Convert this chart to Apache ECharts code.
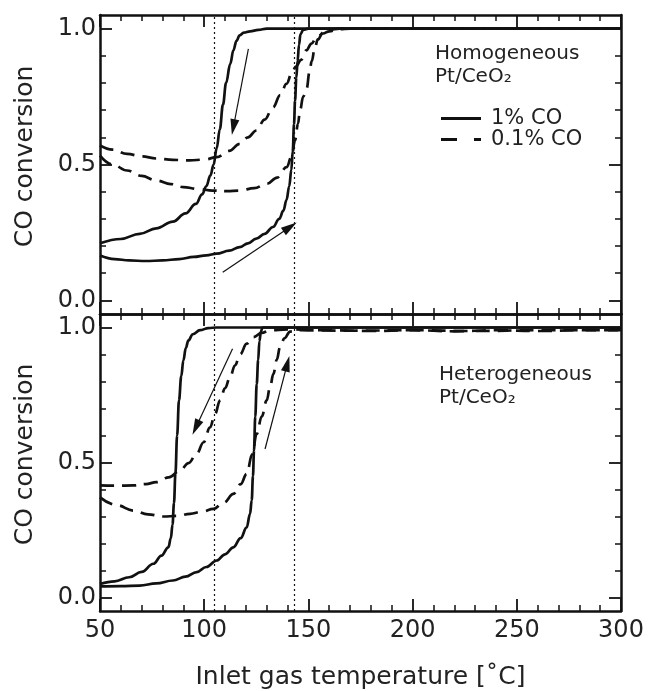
<!DOCTYPE html>
<html><head><meta charset="utf-8">
<script src="https://cdn.jsdelivr.net/npm/echarts@6/dist/echarts.min.js"></script>
<style>html,body{margin:0;padding:0;background:#fff}#c{width:649px;height:691px}</style>
</head><body><div id="c"></div>
<script>
// ---------- data ----------
const xTickValues = [50, 100, 150, 200, 250, 300];
const yMajorTicks = [0, 0.5, 1];
const yMinorTicks = [0.1, 0.2, 0.3, 0.4, 0.6, 0.7, 0.8, 0.9];
const dottedTemps = [105, 143];

// Homogeneous Pt/CeO2 (top panel)
const homoSolidCooling = [[50,0.21],[60,0.226],[69,0.245],[77,0.265],[85,0.29],[91,0.32],[96,0.355],[99,0.39],[101,0.42],[103,0.46],[104.5,0.5],[106,0.56],[107.5,0.63],[109,0.72],[110.5,0.8],[112.5,0.87],[114,0.92],[115.5,0.955],[117,0.975],[119,0.985],[122,0.99],[126,0.995],[130,1.0],[300,1.0]];
const homoSolidHeating = [[50,0.165],[57,0.152],[64,0.147],[72,0.145],[80,0.147],[88,0.152],[95,0.16],[101,0.166],[106,0.172],[112,0.183],[117,0.196],[121,0.21],[125,0.227],[129,0.245],[133,0.27],[136,0.3],[138,0.33],[139.5,0.37],[140.8,0.42],[141.8,0.48],[142.5,0.55],[143.1,0.65],[143.6,0.735],[144.2,0.82],[144.8,0.88],[145.5,0.94],[146.2,0.98],[147.5,0.995],[150,1.0],[300,1.0]];
const homoDashedCooling = [[50,0.57],[56,0.555],[63,0.539],[70,0.53],[77,0.522],[85,0.517],[93,0.515],[100,0.518],[106,0.527],[112,0.55],[117,0.576],[121,0.6],[125,0.625],[129,0.665],[133,0.71],[136.5,0.755],[139.5,0.797],[142,0.835],[144,0.86],[146.5,0.885],[149,0.92],[151.5,0.945],[154,0.968],[157,0.982],[160,0.99],[165,0.998],[170,1.0],[300,1.0]];
const homoDashedHeating = [[50,0.533],[56,0.5],[63,0.478],[70,0.458],[77,0.441],[84,0.428],[90,0.417],[97,0.41],[104,0.404],[111,0.402],[117,0.404],[124,0.413],[130,0.429],[135,0.452],[139.5,0.49],[142,0.53],[143.6,0.59],[145,0.65],[146,0.7],[147.5,0.75],[149.2,0.78],[150.5,0.84],[151.6,0.88],[153,0.925],[154.5,0.96],[157,0.985],[160,0.995],[165,1.0],[300,1.0]];
const homoArrows = [[[121.2,0.925],[114,0.637]], [[108.9,0.104],[141.2,0.27]]];

// Heterogeneous Pt/CeO2 (bottom panel)
const heteroSolidCooling = [[50,0.05],[57,0.06],[64,0.075],[70,0.095],[75.6,0.125],[79.5,0.155],[82.8,0.186],[84,0.22],[84.8,0.27],[85.5,0.35],[86.2,0.46],[87,0.6],[87.9,0.73],[89,0.82],[90,0.878],[91.2,0.925],[92.4,0.952],[94.5,0.975],[98,0.99],[102,0.998],[106,1.0],[300,1.0]];
const heteroSolidHeating = [[50,0.041],[60,0.042],[69,0.044],[77,0.052],[85,0.063],[91,0.077],[96.4,0.094],[101,0.113],[106,0.137],[110,0.16],[114,0.186],[117.5,0.22],[120.4,0.26],[122,0.31],[122.8,0.36],[123.4,0.45],[123.9,0.544],[124.5,0.67],[125.2,0.79],[125.9,0.88],[126.5,0.95],[127.2,0.985],[128,1.0],[300,1.0]];
const heteroDashedCooling = [[50,0.415],[58,0.414],[66,0.415],[72,0.42],[77,0.427],[83,0.445],[88.4,0.47],[92.5,0.498],[96.4,0.532],[99.7,0.575],[102.8,0.63],[105.2,0.68],[107.6,0.73],[110,0.775],[112.4,0.816],[114.8,0.86],[117.2,0.9],[120.4,0.94],[123.6,0.964],[127.6,0.98],[131.6,0.99],[140,0.993],[160,0.99],[180,0.987],[200,0.99],[220,0.986],[240,0.99],[260,0.987],[280,0.99],[300,0.99]];
const heteroDashedHeating = [[50,0.371],[58,0.342],[66,0.322],[73,0.308],[80.4,0.3],[87,0.302],[93.2,0.31],[99,0.318],[104.4,0.328],[109.5,0.352],[114,0.384],[117.5,0.42],[120.4,0.458],[123,0.53],[125.2,0.606],[127.6,0.67],[130,0.73],[131.6,0.78],[133.2,0.828],[134.8,0.88],[136.4,0.927],[138.5,0.96],[141.2,0.985],[146,0.99],[170,0.988],[200,0.99],[230,0.987],[260,0.99],[300,0.99]];
const heteroArrows = [[[113.6,0.921],[96,0.63]], [[129.2,0.55],[139.9,0.866]]];

// ---------- chart ----------
const F = 'DejaVu Sans';
const INK = '#111';
const TXT = '#222';

function xAx(gi, pos, labels) {
  return {
    type: 'value', gridIndex: gi, position: pos, min: 50, max: 300, interval: 50,
    axisLine: {show: true, onZero: false, lineStyle: {color: INK, width: 2.5}},
    axisTick: {show: true, inside: true, length: 12, lineStyle: {color: INK, width: 1.8}},
    minorTick: {show: true, splitNumber: 5, length: 6, lineStyle: {color: INK, width: 1.5}},
    splitLine: {show: false}, minorSplitLine: {show: false},
    axisLabel: {show: labels, margin: 8, fontSize: 24, fontFamily: F, color: TXT},
    name: labels ? 'Inlet gas temperature [˚C]' : '',
    nameLocation: 'middle', nameGap: 54,
    nameTextStyle: {fontSize: 25, fontFamily: F, color: TXT}
  };
}
function yAx(gi, pos, ticks, len, labels, line) {
  return {
    type: 'value', gridIndex: gi, position: pos, min: -0.05, max: 1.05,
    axisLine: {show: line, onZero: false, lineStyle: {color: INK, width: 2.5}},
    axisTick: {show: true, inside: true, length: len, customValues: ticks, lineStyle: {color: INK, width: len > 8 ? 1.8 : 1.5}},
    axisLabel: {show: labels, customValues: yMajorTicks, formatter: v => Number(v).toFixed(1), margin: 4, fontSize: 24, fontFamily: F, color: TXT},
    splitLine: {show: false},
    name: labels ? 'CO conversion' : '',
    nameLocation: 'middle', nameGap: 62,
    nameTextStyle: {fontSize: 25, fontFamily: F, color: TXT, padding: [0, 0, 0, 16]}
  };
}
function curve(name, data, dashed, xi, yi, extra) {
  return Object.assign({
    type: 'line', name: name, data: data, xAxisIndex: xi, yAxisIndex: yi,
    symbol: 'none', showSymbol: false, smooth: 0.4, smoothMonotone: 'x',
    lineStyle: {color: INK, width: 2.7, type: dashed ? [14, 8] : 'solid'},
    itemStyle: {color: INK}, silent: true, animation: false, z: 3
  }, extra || {});
}
function marks(arrows) {
  return {
    silent: true, animation: false, label: {show: false},
    symbol: ['none', 'none'],
    lineStyle: {color: INK, width: 1.2, type: 'solid'},
    emphasis: {disabled: true},
    data: dottedTemps.map(t => ({xAxis: t, lineStyle: {type: [2, 3], width: 1.2, color: INK}}))
      .concat(arrows.map(a => [
        {coord: a[0], lineStyle: {width: 1.2, color: INK, type: 'solid'}},
        {coord: a[1], symbol: 'triangle', symbolSize: [9, 16]}
      ]))
  };
}

const option = {
  animation: false,
  backgroundColor: '#fff',
  grid: [
    {left: 100, top: 15, width: 521, height: 299},
    {left: 100, top: 314, width: 521, height: 298}
  ],
  xAxis: [xAx(0, 'bottom', false), xAx(0, 'top', false), xAx(1, 'bottom', true), xAx(1, 'top', false)],
  yAxis: [
    yAx(0, 'left', yMajorTicks, 12, true, true), yAx(0, 'left', yMinorTicks, 6, false, false),
    yAx(0, 'right', yMajorTicks, 12, false, true), yAx(0, 'right', yMinorTicks, 6, false, false),
    yAx(1, 'left', yMajorTicks, 12, true, true), yAx(1, 'left', yMinorTicks, 6, false, false),
    yAx(1, 'right', yMajorTicks, 12, false, true), yAx(1, 'right', yMinorTicks, 6, false, false)
  ],
  title: [
    {text: 'Homogeneous\nPt/CeO₂', left: 435, top: 42, padding: 0,
     textStyle: {fontSize: 20, lineHeight: 23, fontWeight: 'normal', fontFamily: F, color: TXT}},
    {text: 'Heterogeneous\nPt/CeO₂', left: 439, top: 363, padding: 0,
     textStyle: {fontSize: 20, lineHeight: 23, fontWeight: 'normal', fontFamily: F, color: TXT}}
  ],
  legend: {
    data: [
      {name: '1% CO', icon: 'path://M0,0H40V3H0Z'},
      {name: '0.1% CO', icon: 'path://M0,0H16V3H0Z M33,0H40V3H33Z'}
    ],
    orient: 'vertical', left: 441, top: 108, padding: 0,
    itemWidth: 40, itemHeight: 10, itemGap: 0, selectedMode: false,
    itemStyle: {color: INK, borderWidth: 0},
    textStyle: {fontSize: 21, fontFamily: F, color: TXT, lineHeight: 18, padding: [0, 0, 0, 5]}
  },
  series: [
    curve('1% CO', homoSolidCooling, false, 0, 0, {markLine: marks(homoArrows)}),
    curve('1% CO', homoSolidHeating, false, 0, 0),
    curve('0.1% CO', homoDashedCooling, true, 0, 0),
    curve('0.1% CO', homoDashedHeating, true, 0, 0),
    curve('1% CO', heteroSolidCooling, false, 2, 4, {markLine: marks(heteroArrows)}),
    curve('1% CO', heteroSolidHeating, false, 2, 4),
    curve('0.1% CO', heteroDashedCooling, true, 2, 4),
    curve('0.1% CO', heteroDashedHeating, true, 2, 4)
  ]
};
const chart = echarts.init(document.getElementById('c'), null, {renderer: 'canvas'});
chart.setOption(option);
</script>
</body></html>
